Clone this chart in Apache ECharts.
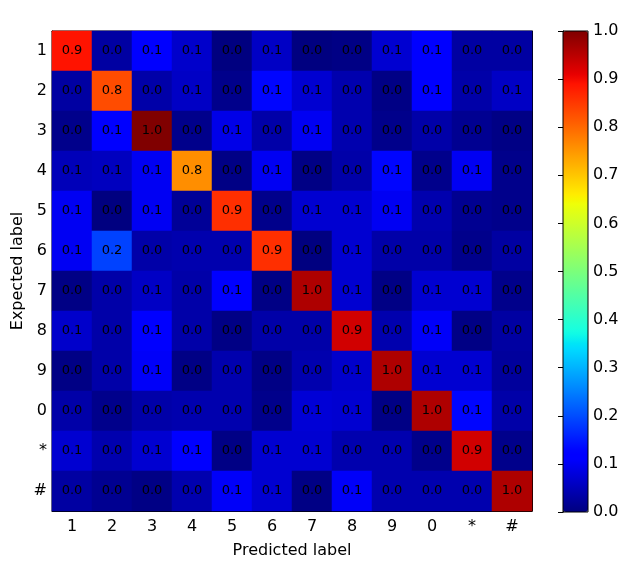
<!DOCTYPE html>
<html>
<head>
<meta charset="utf-8">
<script src="https://cdn.jsdelivr.net/npm/echarts@6/dist/echarts.min.js"></script>
<style>html,body{margin:0;padding:0;background:#fff;}#c{width:626px;height:570px;}</style>
</head>
<body>
<div id="c"></div>
<script>
const labels = ['1','2','3','4','5','6','7','8','9','0','*','#'];
const colorbarTicks = [0,0.1,0.2,0.3,0.4,0.5,0.6,0.7,0.8,0.9,1.0];
// rows = expected label, columns = predicted label
const row1 = [0.89,0.03,0.11,0.065,0.0,0.06,0.0,0.005,0.07,0.12,0.03,0.03];
const row2 = [0.03,0.83,0.035,0.06,0.01,0.13,0.07,0.04,0.005,0.12,0.035,0.06];
const row3 = [0.01,0.11,1.0,0.01,0.09,0.035,0.10,0.04,0.01,0.035,0.015,0.005];
const row4 = [0.05,0.055,0.10,0.76,0.005,0.10,0.005,0.035,0.13,0.01,0.10,0.01];
const row5 = [0.10,0.0,0.10,0.02,0.86,0.01,0.07,0.07,0.10,0.04,0.015,0.01];
const row6 = [0.10,0.19,0.035,0.04,0.04,0.86,0.0,0.07,0.035,0.035,0.01,0.03];
const row7 = [0.005,0.035,0.06,0.035,0.11,0.005,0.96,0.07,0.005,0.07,0.07,0.01];
const row8 = [0.065,0.035,0.11,0.035,0.005,0.035,0.035,0.93,0.04,0.105,0.005,0.03];
const row9 = [0.005,0.035,0.105,0.005,0.04,0.005,0.04,0.065,0.96,0.07,0.07,0.025];
const row0 = [0.035,0.01,0.035,0.04,0.04,0.01,0.075,0.07,0.005,0.96,0.13,0.035];
const rowStar = [0.07,0.04,0.07,0.12,0.005,0.07,0.07,0.04,0.04,0.01,0.93,0.01];
const rowHash = [0.03,0.015,0.005,0.04,0.105,0.07,0.005,0.105,0.04,0.04,0.04,0.96];
const matrix = [row1,row2,row3,row4,row5,row6,row7,row8,row9,row0,rowStar,rowHash];

const data = [];
matrix.forEach((row, yi) => row.forEach((v, xi) => data.push([xi, yi, v])));

// jet colormap stops
function interp(pts, v) {
  for (let i = 1; i < pts.length; i++) {
    if (v <= pts[i][0]) {
      const [x0, y0] = pts[i-1], [x1, y1] = pts[i];
      return y0 + (y1 - y0) * (v - x0) / (x1 - x0);
    }
  }
  return pts[pts.length-1][1];
}
const R = [[0,0],[0.35,0],[0.66,1],[0.89,1],[1,0.5]];
const G = [[0,0],[0.125,0],[0.375,1],[0.64,1],[0.91,0],[1,0]];
const B = [[0,0.5],[0.11,1],[0.34,1],[0.65,0],[1,0]];
const jet = [];
for (let i = 0; i <= 200; i++) {
  const v = i / 200;
  const c = [R,G,B].map(p => Math.round(255 * interp(p, v)));
  jet.push('rgb(' + c.join(',') + ')');
}

const font = 'DejaVu Sans';
const chart = echarts.init(document.getElementById('c'));
chart.setOption({
  animation: false,
  textStyle: { fontFamily: font },
  grid: [
    { left: 52, top: 31, width: 480, height: 480, show: true, borderColor: '#000', borderWidth: 1, backgroundColor: 'transparent', containLabel: false, outerBoundsMode: 'none' },
    { left: 563, top: 31, width: 25, height: 481, show: true, borderColor: '#000', borderWidth: 1, backgroundColor: 'transparent', z: 10, containLabel: false, outerBoundsMode: 'none' }
  ],
  xAxis: [
    { type: 'category', data: labels, gridIndex: 0, position: 'bottom',
      name: 'Predicted label', nameLocation: 'middle', nameGap: 32,
      nameTextStyle: { fontSize: 16, color: '#000', fontFamily: font },
      axisLine: { lineStyle: { color: '#000' } },
      axisTick: { inside: true, alignWithLabel: true, length: 4, lineStyle: { color: '#000' } },
      axisLabel: { fontSize: 16, color: '#000', margin: 8, fontFamily: font },
      splitLine: { show: false } },
    { type: 'category', data: labels, gridIndex: 0, position: 'top',
      axisLine: { lineStyle: { color: '#000' } },
      axisTick: { inside: true, alignWithLabel: true, length: 4, lineStyle: { color: '#000' } },
      axisLabel: { show: false } },
    { type: 'value', gridIndex: 1, show: false, min: 0, max: 1 }
  ],
  yAxis: [
    { type: 'category', data: labels, gridIndex: 0, inverse: true, position: 'left',
      name: 'Expected label', nameLocation: 'middle', nameGap: 26, nameRotate: 90, nameMoveOverlap: false,
      nameTextStyle: { fontSize: 16, color: '#000', fontFamily: font },
      axisLine: { lineStyle: { color: '#000' } },
      axisTick: { inside: true, alignWithLabel: true, length: 4, lineStyle: { color: '#000' } },
      axisLabel: { fontSize: 16, color: '#000', margin: 5, fontFamily: font },
      splitLine: { show: false } },
    { type: 'category', data: labels, gridIndex: 0, inverse: true, position: 'right',
      axisLine: { lineStyle: { color: '#000' } },
      axisTick: { inside: true, alignWithLabel: true, length: 4, lineStyle: { color: '#000' } },
      axisLabel: { show: false } },
    { type: 'value', gridIndex: 1, position: 'right', min: colorbarTicks[0], max: colorbarTicks[colorbarTicks.length-1], interval: 0.1,
      axisLine: { show: true, lineStyle: { color: '#000' } },
      axisTick: { inside: true, length: 5, lineStyle: { color: '#000' } },
      axisLabel: { fontSize: 16, color: '#000', margin: 5, fontFamily: font, formatter: v => v.toFixed(1) },
      splitLine: { show: false } }
  ],
  visualMap: {
    type: 'continuous', min: 0, max: 1, seriesIndex: 0,
    calculable: false, hoverLink: false,
    left: 563, top: 31, padding: 0,
    itemWidth: 25, itemHeight: 481,
    text: null, showLabel: false,
    inRange: { color: jet }
  },
  series: [{
    type: 'heatmap', xAxisIndex: 0, yAxisIndex: 0, data: data,
    label: { show: true, fontSize: 13, color: '#000', fontFamily: font,
      formatter: p => p.value[2].toFixed(1) },
    itemStyle: { borderWidth: 0 },
    emphasis: { disabled: true }
  }]
});
</script>
</body>
</html>
